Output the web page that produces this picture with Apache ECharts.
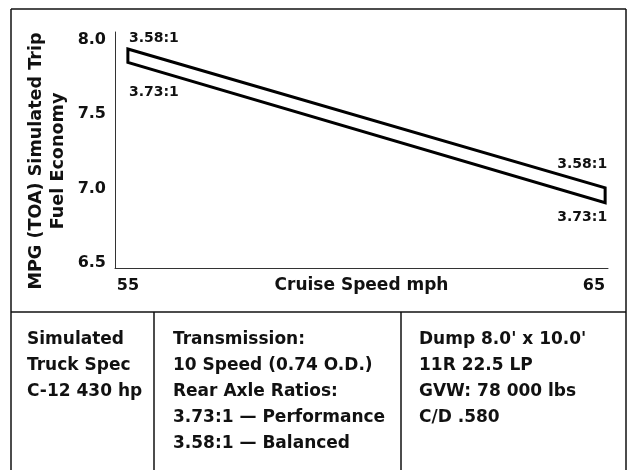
<!DOCTYPE html>
<html>
<head>
<meta charset="utf-8">
<script src="https://cdn.jsdelivr.net/npm/echarts@6/dist/echarts.min.js"></script>
<style>
  html, body { margin: 0; padding: 0; background: #fff; }
  #chart { width: 630px; height: 470px; }
</style>
</head>
<body>
<div id="chart"></div>
<script>
    // data
    var speeds = [55, 65];
    var ratio358 = [7.94, 7.005];   // 3.58:1 Balanced
    var ratio373 = [7.85, 6.905];   // 3.73:1 Performance
    var ratioNames = ['3.58:1', '3.73:1'];
    var mpgTicks = [6.5, 7.0, 7.5, 8.0];
    var speedTicks = [55, 65];

    // spec table under the chart
    var specCol1 = ['Simulated', 'Truck Spec', 'C-12 430 hp'];
    var specCol2 = ['Transmission:', '10 Speed (0.74 O.D.)', 'Rear Axle Ratios:', '3.73:1 \u2014 Performance', '3.58:1 \u2014 Balanced'];
    var specCol3 = ["Dump 8.0' x 10.0'", '11R 22.5 LP', 'GVW: 78 000 lbs', 'C/D .580'];

    var FONT = 'DejaVu Sans';

    initChart();

    function initChart() {
      var chartDom = document.getElementById('chart');
      var myChart = echarts.init(chartDom);

      function border(x1, y1, x2, y2) {
        return {
          type: 'line',
          shape: {x1: x1, y1: y1, x2: x2, y2: y2},
          style: {stroke: '#111', lineWidth: 1.5},
          silent: true
        };
      }
      function column(lines, x) {
        return {
          type: 'text',
          left: x,
          top: 327,
          style: {
            text: lines.join('\n'),
            font: 'bold 17px "' + FONT + '"',
            lineHeight: 26,
            fill: '#111'
          },
          silent: true
        };
      }

      var option = {
        animation: false,
        grid: {
          left: 115,
          right: 22,
          top: 32,
          bottom: 202,
          outerBoundsMode: 'none'
        },
        xAxis: {
          type: 'value',
          min: 54.73,
          max: 65.06,
          name: 'Cruise Speed mph',
          nameLocation: 'middle',
          nameGap: 9,
          nameMoveOverlap: false,
          nameTextStyle: {
            fontFamily: FONT, fontWeight: 'bold', fontSize: 17, color: '#111',
            verticalAlign: 'top'
          },
          axisLine: {lineStyle: {color: '#333', width: 1}},
          axisTick: {show: false},
          splitLine: {show: false},
          axisLabel: {
            customValues: speedTicks,
            margin: 10,
            alignMaxLabel: 'right',
            fontFamily: FONT, fontWeight: 'bold', fontSize: 16, color: '#111',
            formatter: function (v) { return String(v); }
          }
        },
        yAxis: {
          type: 'value',
          min: 6.466,
          max: 8.054,
          name: 'MPG (TOA) Simulated Trip\nFuel Economy',
          nameLocation: 'middle',
          nameGap: 46,
          nameMoveOverlap: false,
          nameTextStyle: {
            fontFamily: FONT, fontWeight: 'bold', fontSize: 17.6, color: '#111',
            lineHeight: 22, align: 'center',
            padding: [0, 22, 0, 0]
          },
          axisLine: {show: true, lineStyle: {color: '#333', width: 1}},
          axisTick: {show: false},
          splitLine: {show: false},
          axisLabel: {
            customValues: mpgTicks,
            margin: 9,
            fontFamily: FONT, fontWeight: 'bold', fontSize: 16, color: '#111',
            formatter: function (v) { return v.toFixed(1); }
          }
        },
        series: [
          {
            name: 'Axle ratio band',
            type: 'custom',
            data: [0],
            clip: false,
            renderItem: function (params, api) {
              var pts = [];
              for (var i = 0; i < speeds.length; i++) {
                pts.push(api.coord([speeds[i], ratio358[i]]));
              }
              for (var j = speeds.length - 1; j >= 0; j--) {
                pts.push(api.coord([speeds[j], ratio373[j]]));
              }
              var last = speeds.length - 1;
              var tl = api.coord([speeds[0], ratio358[0]]);
              var bl = api.coord([speeds[0], ratio373[0]]);
              var tr = api.coord([speeds[last], ratio358[last]]);
              var br = api.coord([speeds[last], ratio373[last]]);
              var txt = function (label, x, y, align) {
                return {
                  type: 'text',
                  x: x, y: y,
                  style: {
                    text: label,
                    font: 'bold 14px "' + FONT + '"',
                    fill: '#111',
                    align: align,
                    verticalAlign: 'middle'
                  }
                };
              };
              return {
                type: 'group',
                children: [
                  {
                    type: 'polygon',
                    shape: {points: pts},
                    style: {fill: '#fff', stroke: '#000', lineWidth: 3, lineJoin: 'miter'}
                  },
                  txt(ratioNames[0], tl[0] + 1, tl[1] - 11, 'left'),
                  txt(ratioNames[1], bl[0] + 1, bl[1] + 30, 'left'),
                  txt(ratioNames[0], tr[0] + 2, tr[1] - 24, 'right'),
                  txt(ratioNames[1], br[0] + 2, br[1] + 15, 'right')
                ]
              };
            }
          }
        ],
        graphic: [
          border(11, 9, 626, 9),
          border(11, 9, 11, 470),
          border(626, 9, 626, 470),
          border(11, 312, 626, 312),
          border(154, 312, 154, 470),
          border(401, 312, 401, 470),
          column(specCol1, 27),
          column(specCol2, 173),
          column(specCol3, 419)
        ]
      };

      option && myChart.setOption(option);
    }
</script>
</body>
</html>
